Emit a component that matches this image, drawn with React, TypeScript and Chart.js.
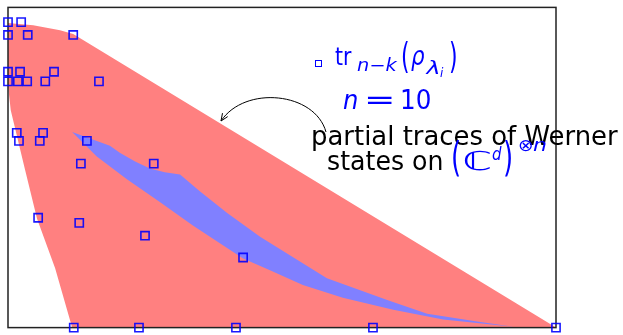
import React, { useEffect, useRef } from "react";
import { Chart, registerables } from "chart.js";

Chart.register(...registerables);

// Outer region (red), normalized coordinates
const redX = [0, 0.046, 0.095, 0.119, 1, 0.117, 0.086, 0.053, 0.031, 0.005, 0];
const redY = [0.951, 0.944, 0.929, 0.917, 0, 0, 0.185, 0.34, 0.494, 0.679, 0.756];

// Inner region (blue): upper boundary then lower boundary back to tip
const blueUpperX = [0.117, 0.186, 0.204, 0.232, 0.259, 0.286, 0.314, 0.35, 0.4, 0.46, 0.582, 0.692, 0.765, 0.856, 0.922];
const blueUpperY = [0.611, 0.568, 0.546, 0.519, 0.497, 0.485, 0.478, 0.426, 0.358, 0.284, 0.154, 0.086, 0.043, 0.019, 0.003];
const blueLowerX = [0.794, 0.703, 0.611, 0.538, 0.478, 0.429, 0.338, 0.277, 0.217, 0.162];
const blueLowerY = [0.025, 0.056, 0.093, 0.133, 0.179, 0.216, 0.318, 0.392, 0.463, 0.534];

// Partial-trace points tr_{n-k}(rho_lambda_i)
const ptX = [0, 0.024, 0, 0.036, 0.119, 0, 0.022, 0.084, 0, 0.018, 0.035, 0.068, 0.166, 0.016, 0.064, 0.02, 0.058, 0.144, 0.133, 0.266, 0.055, 0.13, 0.25, 0.429, 0.12, 0.239, 0.416, 0.666, 1];
const ptY = [0.954, 0.954, 0.914, 0.914, 0.914, 0.799, 0.799, 0.799, 0.769, 0.769, 0.769, 0.769, 0.769, 0.608, 0.608, 0.583, 0.583, 0.583, 0.512, 0.512, 0.343, 0.327, 0.287, 0.219, 0, 0, 0, 0, 0];

const zip = (xs: number[], ys: number[]) => xs.map((x, i) => ({ x, y: ys[i] }));

const BLUE = "#0000ff";

const borderPlugin = {
  id: "frameAfterRed",
  afterDatasetDraw(chart: any, args: any) {
    if (args.index !== 2) return;
    const { left, right, top, bottom } = chart.chartArea;
    const ctx = chart.ctx;
    ctx.save();
    ctx.strokeStyle = "#222";
    ctx.lineWidth = 1.5;
    ctx.strokeRect(left, top, right - left, bottom - top);
    ctx.restore();
  },
};

const textPlugin = {
  id: "annotations",
  afterDraw(chart: any) {
    const ctx: CanvasRenderingContext2D = chart.ctx;
    ctx.save();
    ctx.textAlign = "left";
    ctx.textBaseline = "alphabetic";
    const run = (t: string, x: number, y: number, size: number, italic: boolean, color: string, w?: number) => {
      ctx.font = `${italic ? "italic " : ""}${size}px "DejaVu Sans"`;
      ctx.fillStyle = color;
      const m = ctx.measureText(t);
      const ink = m.actualBoundingBoxLeft + m.actualBoundingBoxRight;
      const sx = w && ink > 0 ? w / ink : 1;
      ctx.save();
      ctx.translate(x + m.actualBoundingBoxLeft * sx, y);
      ctx.scale(sx, 1);
      ctx.fillText(t, 0, 0);
      ctx.restore();
    };
    // tall delimiter: stretched vertically between top and bottom
    const paren = (t: string, x: number, top: number, bottom: number, size: number, color: string) => {
      ctx.font = `${size}px "DejaVu Sans"`;
      ctx.fillStyle = color;
      const m = ctx.measureText(t);
      const hh = m.actualBoundingBoxAscent + m.actualBoundingBoxDescent;
      const sy = (bottom - top) / hh;
      ctx.save();
      ctx.translate(x + m.actualBoundingBoxLeft, top + m.actualBoundingBoxAscent * sy);
      ctx.scale(1, sy);
      ctx.fillText(t, 0, 0);
      ctx.restore();
    };

    // legend
    ctx.strokeStyle = BLUE;
    ctx.lineWidth = 1;
    ctx.strokeRect(315.5, 60.5, 6, 6);
    run("tr", 335, 65, 25, false, BLUE, 17);
    run("n\u2212k", 357, 71, 17, true, BLUE, 41);
    paren("(", 402, 43, 73, 22, BLUE);
    run("\u03c1", 411, 65, 26, true, BLUE, 14);
    run("\u03bb", 425, 74, 17, true, BLUE, 14);
    run("i", 440, 77, 12, true, BLUE);
    paren(")", 450, 43, 73, 22, BLUE);

    run("n", 343, 109, 26, true, BLUE, 14);
    run("=", 367, 109, 26, false, BLUE, 26);
    run("10", 402, 109, 26, false, BLUE, 28);

    run("partial traces of Werner", 313, 145, 26, false, "#000", 305);
    run("states on", 328, 170, 26, false, "#000", 114);
    paren("(", 453, 139, 177, 26, BLUE);
    run("\u2102", 464, 170, 26, false, BLUE, 26);
    run("d", 492, 160, 18, true, BLUE, 10);
    paren(")", 505, 139, 177, 26, BLUE);
    run("\u2297", 519, 151, 17, false, BLUE, 13);
    run("n", 533, 151, 17, true, BLUE, 13);

    // curved arrow
    ctx.strokeStyle = "#000";
    ctx.lineWidth = 1;
    ctx.beginPath();
    ctx.moveTo(326, 132);
    ctx.bezierCurveTo(315, 92, 245, 85, 221, 121);
    ctx.stroke();
    const ang = Math.atan2(121 - 85, 221 - 245);
    const L = 8;
    ctx.beginPath();
    ctx.moveTo(221 - L * Math.cos(ang - 0.4), 121 - L * Math.sin(ang - 0.4));
    ctx.lineTo(221, 121);
    ctx.lineTo(221 - L * Math.cos(ang + 0.4), 121 - L * Math.sin(ang + 0.4));
    ctx.stroke();
    ctx.restore();
  },
};

export default function App() {
  const ref = useRef<HTMLCanvasElement | null>(null);
  useEffect(() => {
    if (!ref.current) return;
    const bluePoly = [...zip(blueUpperX, blueUpperY), ...zip(blueLowerX, blueLowerY)];
    const chart = new Chart(ref.current, {
      type: "scatter",
      data: {
        datasets: [
          {
            label: "points",
            data: zip(ptX, ptY),
            showLine: false,
            pointStyle: "rect",
            pointRadius: 5.8,
            pointBorderWidth: 1.6,
            borderColor: "rgba(0,0,255,0.9)",
            backgroundColor: "rgba(0,0,0,0)",
            clip: false,
          } as any,
          {
            label: "blue",
            data: bluePoly,
            showLine: true,
            fill: "shape",
            backgroundColor: "#8080ff",
            borderColor: "rgba(0,0,0,0)",
            borderWidth: 0,
            pointRadius: 0,
            tension: 0,
          } as any,
          {
            label: "red",
            data: zip(redX, redY),
            showLine: true,
            fill: "shape",
            backgroundColor: "#ff8080",
            borderColor: "rgba(0,0,0,0)",
            borderWidth: 0,
            pointRadius: 0,
            tension: 0,
          } as any,
        ],
      },
      options: {
        animation: false,
        responsive: false,
        devicePixelRatio: 1,
        layout: { padding: { left: 8, top: 6, right: 67, bottom: 5 } },
        scales: {
          x: { type: "linear", min: 0, max: 1, display: false },
          y: { type: "linear", min: 0, max: 1, display: false },
        },
        plugins: { legend: { display: false }, tooltip: { enabled: false } },
        events: [],
      } as any,
      plugins: [borderPlugin, textPlugin],
    });
    return () => chart.destroy();
  }, []);
  return (
    <div style={{ position: "fixed", left: 0, top: 0, width: 623, height: 335, background: "#fff" }}>
      <canvas ref={ref} width={623} height={335} style={{ display: "block" }} />
    </div>
  );
}
